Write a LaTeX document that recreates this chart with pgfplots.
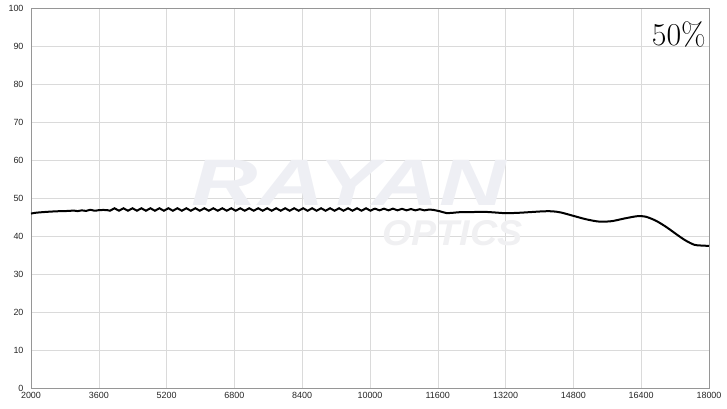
\documentclass[border=0pt]{standalone}
\usepackage{fontspec}
\usepackage{pgfplots}
\pgfplotsset{compat=1.18}
\newfontfamily\arial{Liberation Sans}
\definecolor{wmark}{RGB}{238,239,244}
\definecolor{wmarkb}{RGB}{240,240,242}
\definecolor{gridc}{RGB}{218,218,218}
\definecolor{framec}{RGB}{150,150,150}

\begin{document}
\begin{tikzpicture}
\useasboundingbox (-31bp,-21bp) rectangle (696bp,388bp);
\begin{axis}[
    scale only axis,
    width=678bp, height=380bp,
    xmin=2000, xmax=18000,
    ymin=0, ymax=100,
    xtick={2000,3600,...,18000},
    ytick={0,10,...,100},
    scaled x ticks=false,
    grid=major,
    major grid style={gridc, line width=0.5bp},
    axis line style={framec, line width=0.6bp},
    major tick length=0pt,
    tick label style={font=\arial\fontsize{9}{10}\selectfont, text=black!85},
    /pgf/number format/assume math mode=true,
    /pgf/number format/1000 sep={},
    xticklabel style={yshift=-1bp},
    yticklabel style={xshift=-4bp},
    clip=false,
]
% watermark
\node[text=wmark, font=\arial\bfseries\itshape\fontsize{66}{70}\selectfont,
      xscale=1.4, anchor=center, inner sep=0pt] at (axis cs:9500,54) {RAYAN};
\node[text=wmarkb, font=\arial\bfseries\itshape\fontsize{36}{40}\selectfont,
      xscale=1.05, anchor=center, inner sep=0pt] at (axis cs:11950,40.8) {OPTICS};

\addplot[black, line width=2bp, smooth] coordinates {
(2000,45.9) (2100,46.1) (2300,46.3) (2600,46.5) (2900,46.6)
(3000,46.7) (3100,46.55) (3200,46.75) (3300,46.6) (3400,46.9)
(3500,46.65) (3600,46.8) (3700,46.85) (3800,46.8)
(3864,46.65) (3917,46.97) (3970,47.3) (4023,46.97) (4076,46.65) (4129,46.97)
(4182,47.3) (4235,46.97) (4288,46.65) (4341,46.97) (4394,47.3) (4447,46.97)
(4500,46.65) (4553,46.97) (4606,47.3) (4659,46.97) (4712,46.65) (4765,46.97)
(4818,47.3) (4871,46.97) (4924,46.65) (4977,46.97) (5030,47.3) (5083,46.97)
(5136,46.65) (5189,46.97) (5242,47.3) (5295,46.97) (5348,46.65) (5401,46.97)
(5454,47.3) (5507,46.97) (5560,46.65) (5613,46.97) (5666,47.3) (5719,46.97)
(5772,46.65) (5825,46.97) (5878,47.3) (5931,46.97) (5984,46.65) (6037,46.97)
(6090,47.3) (6143,46.97) (6196,46.65) (6249,46.97) (6302,47.3) (6355,46.97)
(6408,46.65) (6461,46.97) (6514,47.3) (6567,46.97) (6620,46.65) (6673,46.97)
(6726,47.3) (6779,46.97) (6832,46.65) (6885,46.97) (6938,47.3) (6991,46.97)
(7044,46.65) (7097,46.97) (7150,47.3) (7203,46.97) (7256,46.65) (7309,46.97)
(7362,47.3) (7415,46.97) (7468,46.65) (7521,46.97) (7574,47.3) (7627,46.97)
(7680,46.65) (7733,46.97) (7786,47.3) (7839,46.97) (7892,46.65) (7945,46.97)
(7998,47.3) (8051,46.97) (8104,46.65) (8157,46.97) (8210,47.3) (8263,46.97)
(8316,46.65) (8369,46.97) (8422,47.3) (8475,46.97) (8528,46.65) (8581,46.97)
(8634,47.3) (8687,46.97) (8740,46.65) (8793,46.97) (8846,47.3) (8899,46.97)
(8952,46.65) (9005,46.97) (9058,47.3) (9111,46.97) (9164,46.65) (9217,46.97)
(9270,47.3) (9323,46.97) (9376,46.65) (9429,46.97) (9482,47.3) (9535,46.97)
(9588,46.65) (9641,46.97) (9694,47.3) (9747,46.97) (9800,46.65) (9853,46.97)
(9906,47.3) (9959,46.97) (10012,46.65) (10065,46.97) (10118,47.2) (10171,46.97)
(10224,46.75) (10277,46.97) (10330,47.2) (10383,46.97) (10436,46.75) (10489,46.97)
(10542,47.2) (10595,46.97) (10648,46.75) (10701,46.95) (10754,47.15) (10807,46.95)
(10860,46.75) (10913,46.92) (10966,47.1) (11019,46.92) (11072,46.75) (11125,46.9)
(11178,47.05) (11231,46.9) (11284,46.75) (11337,46.85) (11390,46.95)
(11500,46.85) (11650,46.5) (11800,46.05) (11950,46.1) (12100,46.25)
(12400,46.3) (12700,46.35) (13000,46.15) (13200,46.0) (13500,46.1)
(13800,46.3) (14100,46.5) (14300,46.5) (14500,46.2) (14800,45.3)
(15100,44.4) (15400,43.8) (15700,43.9) (16000,44.6) (16300,45.2)
(16500,45.1) (16750,44.0) (17000,42.3) (17250,40.3) (17450,38.8)
(17650,37.7) (17800,37.5) (18000,37.4)
};

\node[anchor=base east, font=\fontsize{32}{36}\selectfont, inner sep=0pt]
    at (axis cs:17930,90.2) {50\%};
\end{axis}
\end{tikzpicture}
\end{document}
